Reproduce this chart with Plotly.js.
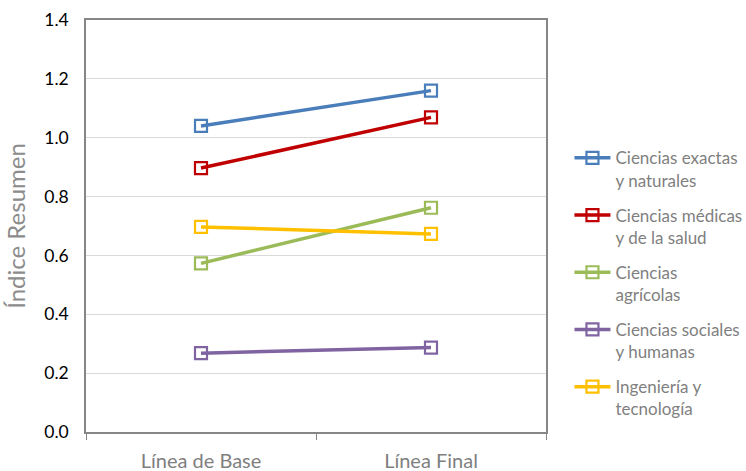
<!DOCTYPE html>
<html><head><meta charset="utf-8">
<script src="https://cdn.plot.ly/plotly-3.0.1.min.js"></script>
<style>body{margin:0;background:#fff}#c{width:746px;height:471px}</style>
</head><body><div id="c"></div>
<script>
const categories = ["Línea de Base", "Línea Final"];
const seriesNames = ["Ciencias exactas<br>y naturales", "Ciencias médicas<br>y de la salud", "Ciencias<br>agrícolas", "Ciencias sociales<br>y humanas", "Ingeniería y<br>tecnología"];
const exactas = [1.04, 1.16];
const medicas = [0.897, 1.069];
const agricolas = [0.573, 0.762];
const sociales = [0.268, 0.287];
const ingenieria = [0.697, 0.673];
const colors = ["#4A7EBB", "#C00000", "#9BBB59", "#8064A2", "#FFC000"];
const yTicks = [0, 0.2, 0.4, 0.6, 0.8, 1.0, 1.2, 1.4];

const allValues = [exactas, medicas, agricolas, sociales, ingenieria];
const traces = allValues.map((v, i) => ({
  type: "scatter", mode: "lines+markers",
  x: categories, y: v, name: seriesNames[i],
  legendgroup: "g" + i,
  line: {color: colors[i], width: 3.5},
  marker: {symbol: "square-open", size: 12, color: colors[i], line: {width: 2.2, color: colors[i]}}
}));

const layout = {
  width: 746, height: 471,
  margin: {l: 86, r: 200, t: 20, b: 39, autoexpand: false},
  paper_bgcolor: "#fff", plot_bgcolor: "#fff",
  font: {family: "Lato, 'Open Sans', sans-serif", color: "#7f7f7f"},
  showlegend: true,
  xaxis: {
    type: "category", range: [-0.5, 1.5],
    tickson: "boundaries", ticks: "outside", ticklen: 6, tickcolor: "#868686", tickwidth: 1,
    showline: true, linecolor: "#868686", linewidth: 1.5, mirror: true,
    showgrid: false, zeroline: false,
    tickfont: {size: 20, color: "#7f7f7f"}, ticklabelstandoff: 10
  },
  yaxis: {
    range: [0, 1.4], tickvals: yTicks, ticktext: yTicks.map(t => t.toFixed(1)),
    showline: true, linecolor: "#868686", linewidth: 1.5, mirror: true,
    showgrid: true, gridcolor: "#d9d9d9", gridwidth: 1, zeroline: false,
    ticks: "", tickfont: {size: 17.5, color: "#000"}, ticklabelstandoff: 12,
    title: {text: "Índice Resumen", font: {size: 24, color: "#8c8c8c"}, standoff: 12}
  },
  legend: {
    x: 1.051, xanchor: "left", y: 0.708, yanchor: "top",
    font: {size: 17, color: "#7f7f7f"}, valign: "top",
    traceorder: "grouped", tracegroupgap: 10,
    itemwidth: 36, bgcolor: "rgba(0,0,0,0)"
  }
};
Plotly.newPlot("c", traces, layout, {displayModeBar: false});
</script></body></html>
